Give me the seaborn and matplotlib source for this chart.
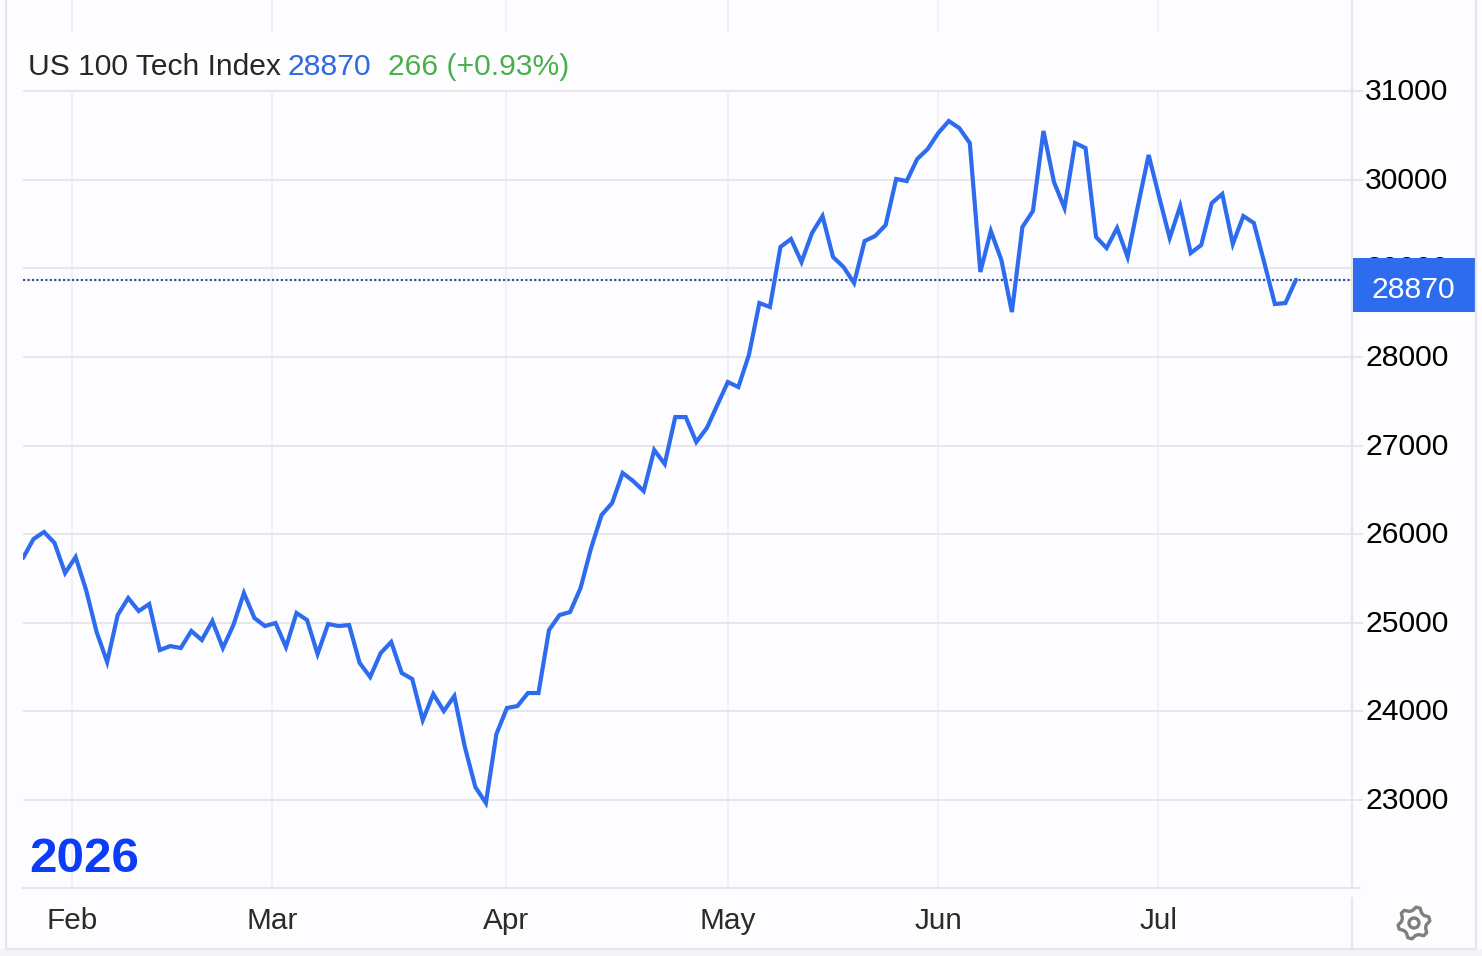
import matplotlib
matplotlib.use('Agg')
import matplotlib.pyplot as plt
from matplotlib.patches import Circle, Polygon, Rectangle
from matplotlib.transforms import ScaledTranslation
import numpy as np
import seaborn as sns

index_values = [
    25730, 25945, 26024, 25900, 25561, 25742, 25369, 24895, 24557, 25087,
    25279, 25132, 25211, 24692, 24737, 24715, 24907, 24805, 25019, 24715,
    24974, 25335, 25053, 24963, 24997, 24726, 25110, 25031, 24647, 24986,
    24963, 24974, 24546, 24388, 24658, 24783, 24433, 24365, 23902, 24196,
    24004, 24173, 23598, 23146, 22966, 23744, 24038, 24060, 24207, 24207,
    24918, 25087, 25121, 25392, 25843, 26216, 26351, 26690, 26599, 26486,
    26949, 26791, 27321, 27321, 27039, 27197, 27457, 27716, 27660, 28021,
    28608, 28563, 29240, 29330, 29070, 29398, 29589, 29127, 29014, 28833,
    29307, 29364, 29488, 30007, 29984, 30233, 30346, 30526, 30661, 30582,
    30413, 28958, 29420, 29093, 28506, 29465, 29646, 30549, 29973, 29680,
    30413, 30357, 29353, 29228, 29454, 29127, 29714, 30278, 29804, 29341,
    29702, 29172, 29262, 29736, 29838, 29274, 29589, 29511, 29059, 28596,
    28608, 28870,
]
last_value = 28870
y_ticks = [23000, 24000, 25000, 26000, 27000, 28000, 29000, 30000, 31000]
month_labels = ['Feb', 'Mar', 'Apr', 'May', 'Jun', 'Jul']
month_pos = [4.66, 23.67, 45.9, 67.0, 87.0, 107.9]

W, H = 1482, 956
LINE = '#2d6bef'
GRID = '#e7e6ea'
VGRID = '#f1f0f5'
BG = '#fdfcfe'
FS = 21.7

sns.set_style("white")
plt.rcParams['font.family'] = ['Liberation Sans', 'DejaVu Sans']

fig = plt.figure(figsize=(W / 100, H / 100), dpi=100, facecolor=BG)

# main axes, right spine sits at x=1352, bottom at y=888
ax = fig.add_axes([23 / W, 1 - 888 / H, (1352 - 23) / W, 888 / H], facecolor=BG)
sns.lineplot(x=np.arange(len(index_values)), y=index_values, ax=ax,
             color=LINE, linewidth=3, zorder=5, solid_joinstyle='miter')
ax.set_xlim(0, 126.33)
ax.set_ylim(22007, 32027)

ax.set_yticks(y_ticks)
ax.set_yticklabels([str(v) for v in y_ticks])
ax.yaxis.tick_right()
ax.tick_params(axis='y', length=8, width=1.4, color=GRID, pad=1.5, labelsize=FS, labelcolor='black')
ax.set_xticks(month_pos)
ax.set_xticklabels(month_labels)
ax.tick_params(axis='x', length=0, pad=14, labelsize=21.4, labelcolor='#2b2b2b')
ax.grid(axis='y', color=GRID, linewidth=1.4)
ax.grid(axis='x', color=VGRID, linewidth=1.4)
ax.set_axisbelow(True)
ax.set_xlabel('')
ax.set_ylabel('')

# tick labels sit a little above their gridlines
lift = ScaledTranslation(0, 2 / 100, fig.dpi_scale_trans)
for lab in ax.get_yticklabels():
    lab.set_transform(lab.get_transform() + lift)

for side in ['top', 'left']:
    ax.spines[side].set_visible(False)
for side in ['right', 'bottom']:
    ax.spines[side].set_color(GRID)
    ax.spines[side].set_linewidth(1.6)

ax.axhline(last_value, color='#34548f', linewidth=1.6, linestyle=(0, (1, 1)), zorder=4)

# overlay in pixel coords for the page furniture
ov = fig.add_axes([0, 0, 1, 1], facecolor='none')
ov.set_xlim(0, W)
ov.set_ylim(H, 0)
ov.axis('off')

ov.add_patch(Rectangle((23, 32), 1325, 58, facecolor=BG, edgecolor='none'))
ov.add_patch(Rectangle((1353, 258), 122, 54, facecolor=LINE, edgecolor='none'))
ov.text(1413.5, 287, str(last_value), color='white', fontsize=FS, ha='center', va='center_baseline')

ov.plot([1352, 1360], [888, 888], color=GRID, linewidth=1.6)
ov.plot([1352, 1352], [898, 949], color=GRID, linewidth=1.6)
ov.plot([6, 6], [0, 949], color=GRID, linewidth=1.6)
ov.plot([1475.5, 1475.5], [0, 949], color=GRID, linewidth=1.6)
ov.add_patch(Rectangle((0, 949), W, 7, facecolor='#f4f3f6', edgecolor='none'))
ov.plot([6, 1475.5], [949, 949], color=GRID, linewidth=1.6)

ov.text(27.5, 75, 'US 100 Tech Index', color='#262626', fontsize=21.6, va='baseline')
ov.text(287.5, 75, str(last_value), color='#3068e0', fontsize=FS, va='baseline')
ov.text(388, 75, '266 (+0.93%)', color='#46b04a', fontsize=21.6, va='baseline')
ov.text(29, 872, '2026', color='#0a3cfa', fontsize=35.6, fontweight='bold', va='baseline')

# settings gear
angles = np.deg2rad(np.arange(0, 360, 15) + 7.5 - 90)
radii = np.tile([16, 16, 12.5, 12.5], 6)
gear = np.column_stack([1414 + radii * np.cos(angles), 923 + radii * np.sin(angles)])
ov.add_patch(Polygon(gear, closed=True, facecolor='none', edgecolor='#7f7f7f', linewidth=2.4, joinstyle='round'))
ov.add_patch(Circle((1414, 923), 5, facecolor='none', edgecolor='#7f7f7f', linewidth=2.4))

fig.savefig('out.png', dpi=100, facecolor=BG)
